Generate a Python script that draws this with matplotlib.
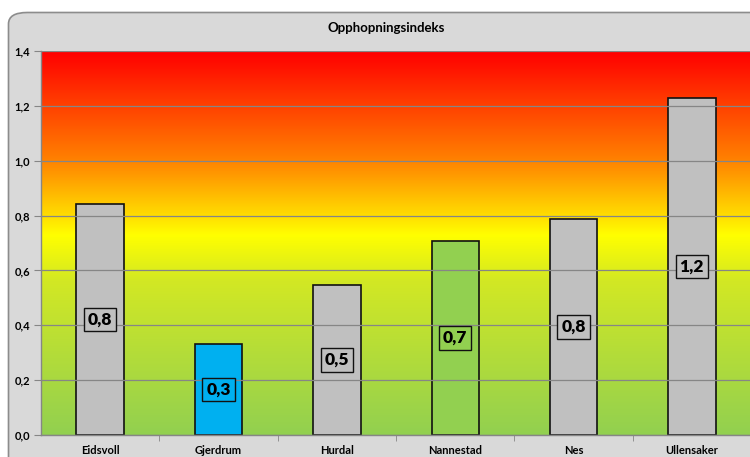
import numpy as np
import matplotlib.pyplot as plt
from matplotlib.colors import LinearSegmentedColormap
from matplotlib.patches import FancyBboxPatch
from matplotlib.ticker import FuncFormatter, MultipleLocator, FixedLocator

plt.rcParams['font.family'] = ['Lato', 'DejaVu Sans']
plt.rcParams['font.weight'] = 'bold'

kommuner = ['Eidsvoll', 'Gjerdrum', 'Hurdal', 'Nannestad', 'Nes', 'Ullensaker']
indeks = [0.842, 0.332, 0.547, 0.707, 0.787, 1.229]
farger = ['#c0c0c0', '#00b0f0', '#c0c0c0', '#92d050', '#c0c0c0', '#c0c0c0']
title = 'Opphopningsindeks'

fig = plt.figure(figsize=(7.5, 4.57), dpi=100)
fig.patch.set_facecolor('white')

# chart frame (rounded, runs off the right and bottom edge)
frame = FancyBboxPatch((8.5 / 750, -0.2), 1.2, 1.2 - 12.5 / 457,
                       boxstyle='round,pad=0,rounding_size=0.025',
                       transform=fig.transFigure, facecolor='#d9d9d9',
                       edgecolor='#8c8c8c', linewidth=1.2, zorder=0)
fig.patches.append(frame)

ax = fig.add_axes([41 / 750, 1 - 435 / 457, 710 / 750, (435 - 51) / 457])
ax.set_zorder(1)

x = np.arange(len(kommuner))
ax.set_xlim(-0.5, len(kommuner) - 0.5)
ax.set_ylim(0, 1.4)

# background gradient green -> yellow -> orange -> red
cmap = LinearSegmentedColormap.from_list('bg', [
    (0.0, '#92d050'),
    (0.40, '#d2e824'),
    (0.52, '#ffff00'),
    (0.58, '#ffd800'),
    (0.72, '#ff8000'),
    (0.86, '#ff4000'),
    (1.0, '#ff0000'),
])
grad = np.linspace(0, 1, 256).reshape(-1, 1)
ax.imshow(grad, cmap=cmap, aspect='auto', origin='lower',
          extent=(-0.5, len(kommuner) - 0.5, 0, 1.4), zorder=0)

ax.yaxis.set_major_locator(MultipleLocator(0.2))
ax.grid(axis='y', color='#868686', linewidth=0.9, zorder=1)
ax.set_axisbelow(False)

bars = ax.bar(x, indeks, width=0.4, color=farger, edgecolor='#111111',
              linewidth=1.2, zorder=2)

for xi, v, c in zip(x, indeks, farger):
    ax.text(xi, v / 2, f'{v:.1f}'.replace('.', ','), ha='center', va='center',
            fontsize=12.5, fontweight='heavy', color='black', zorder=3,
            bbox=dict(boxstyle='square,pad=0.22', facecolor=c,
                      edgecolor='#111111', linewidth=1.0))

ax.set_xticks(x)
ax.set_xticklabels(kommuner, fontsize=8, fontweight='bold')
ax.xaxis.set_minor_locator(FixedLocator(np.arange(0.5, len(kommuner) - 0.5, 1)))
ax.tick_params(axis='x', which='major', length=0, pad=7)
ax.tick_params(axis='x', which='minor', length=4, color='#868686', direction='out')
ax.yaxis.set_major_formatter(FuncFormatter(lambda v, p: f'{v:.1f}'.replace('.', ',')))
ax.tick_params(axis='y', length=5, color='#868686', labelsize=8, pad=3)
for lbl in ax.get_yticklabels():
    lbl.set_fontweight('bold')

for s in ['top', 'right']:
    ax.spines[s].set_visible(False)
for s in ['left', 'bottom']:
    ax.spines[s].set_color('#868686')
    ax.spines[s].set_linewidth(1.0)

fig.text(386 / 750, 1 - 28 / 457, title, ha='center', va='center',
         fontsize=9.5, fontweight='bold')

fig.savefig('out.png', dpi=100)
